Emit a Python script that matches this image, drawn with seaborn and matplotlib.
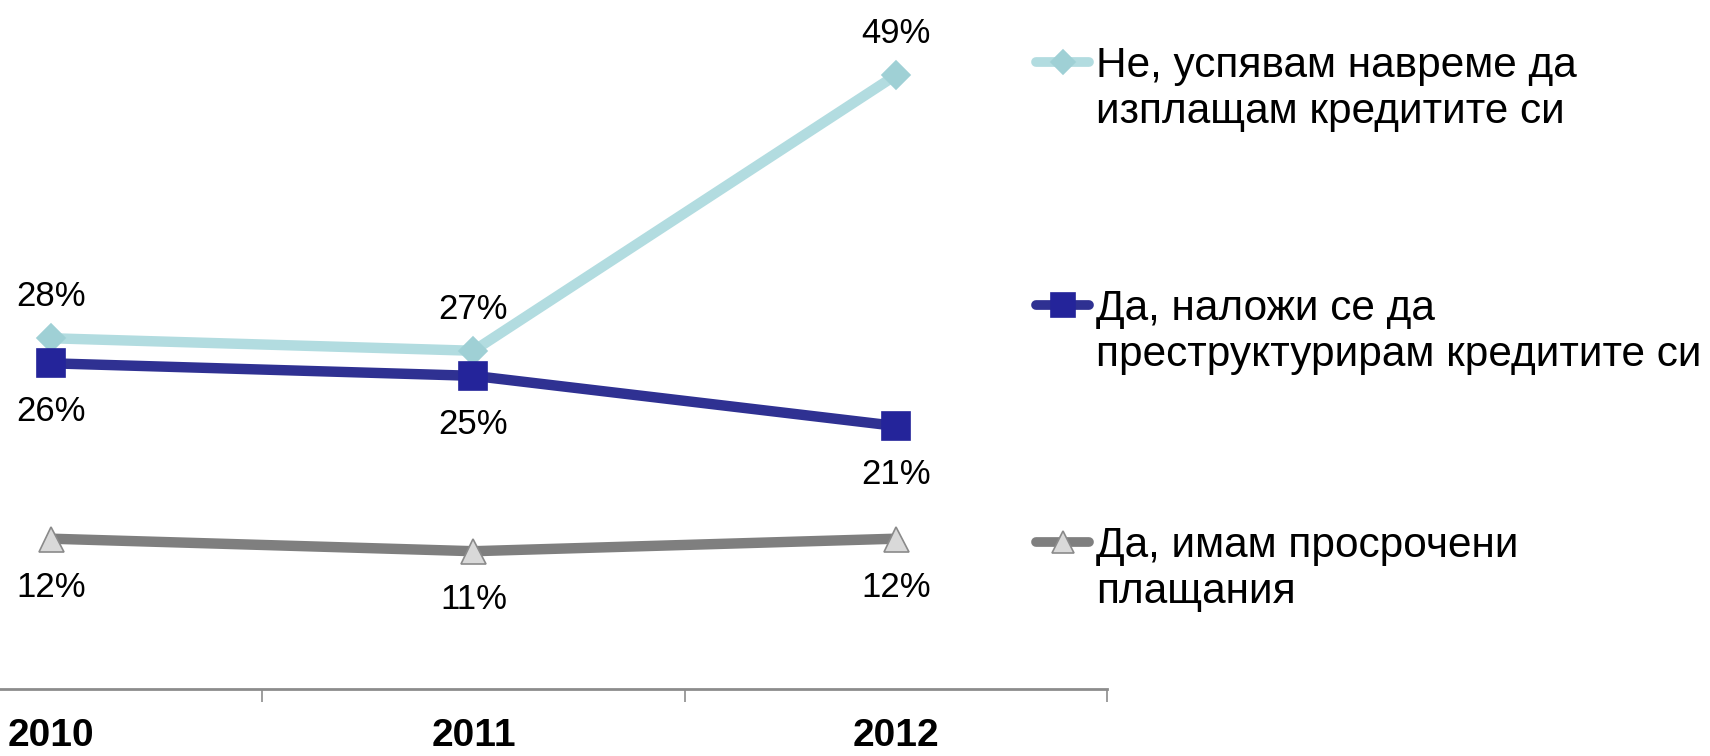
import matplotlib
matplotlib.use("Agg")
import matplotlib.pyplot as plt
from matplotlib.lines import Line2D
import seaborn as sns
import pandas as pd

# Data
years = ["2010", "2011", "2012"]
s_names = ["Не, успявам навреме да\nизплащам кредитите си",
           "Да, наложи се да\nпреструктурирам кредитите си",
           "Да, имам просрочени\nплащания"]
s_vals = [[28, 27, 49],
          [26, 25, 21],
          [12, 11, 12]]

# Styles per series
line_cols = ["#B2DCE0", "#2F3192", "#7F7F7F"]
mark_face = ["#9FD0D5", "#24249A", "#D9D9D9"]
mark_edge = ["#9FD0D5", "#24249A", "#8A8A8A"]
markers = ["D", "s", "^"]
msizes = [14, 20, 18]
lab_off = [30, -35, -35]   # label offsets in points (above / below)

sns.set_style("white")
plt.rcParams["font.family"] = ["Liberation Sans", "DejaVu Sans"]
plt.rcParams["text.color"] = "black"
plt.rcParams["xtick.color"] = "black"

fig = plt.figure(figsize=(17.10, 7.56), dpi=100)
ax = fig.add_axes([-0.0936, 0.0886, 0.741, 0.9114])

for i, name in enumerate(s_names):
    df = pd.DataFrame({"x": range(len(years)), "y": s_vals[i]})
    sns.lineplot(data=df, x="x", y="y", ax=ax, color=line_cols[i], linewidth=7.5,
                 marker=markers[i], markersize=msizes[i],
                 markerfacecolor=mark_face[i], markeredgecolor=mark_edge[i],
                 markeredgewidth=1.2, legend=False)
    for x, v in zip(df["x"], df["y"]):
        ax.annotate(f"{v}%", (x, v), xytext=(0, lab_off[i]), textcoords="offset points",
                    ha="center", va="center", fontsize=25, color="black",
                    annotation_clip=False)

ax.set_xlim(-0.5, 2.5)
ax.set_ylim(0, 55)
ax.set_xlabel("")
ax.set_ylabel("")
ax.set_yticks([])
for sp in ["top", "right", "left"]:
    ax.spines[sp].set_visible(False)
ax.spines["bottom"].set_color("#8C8C8C")
ax.spines["bottom"].set_linewidth(2)

ax.set_xticks(range(len(years)))
ax.set_xticklabels(years, fontsize=28, fontweight="bold", color="black")
ax.tick_params(axis="x", which="major", bottom=True, length=0, pad=21)
ax.set_xticks([0.5, 1.5, 2.5], minor=True)
ax.tick_params(axis="x", which="minor", bottom=True, length=9, width=1.2,
               color="#8C8C8C", direction="out")

# Legend drawn by hand so the handle sits next to the first text line
leg_y = [0.918, 0.5966, 0.283]
for i, name in enumerate(s_names):
    y = leg_y[i]
    fig.add_artist(Line2D([0.606, 0.637], [y, y], transform=fig.transFigure,
                          color=line_cols[i], linewidth=7, solid_capstyle="round"))
    fig.add_artist(Line2D([0.6216], [y], transform=fig.transFigure, linestyle="none",
                          marker=markers[i], markersize=msizes[i] * 0.85,
                          markerfacecolor=mark_face[i], markeredgecolor=mark_edge[i],
                          markeredgewidth=1.2))
    fig.text(0.641, y + 16 / 756, name, ha="left", va="top", fontsize=30.5,
             linespacing=1.2, color="black")

fig.savefig("out.png", dpi=100)
